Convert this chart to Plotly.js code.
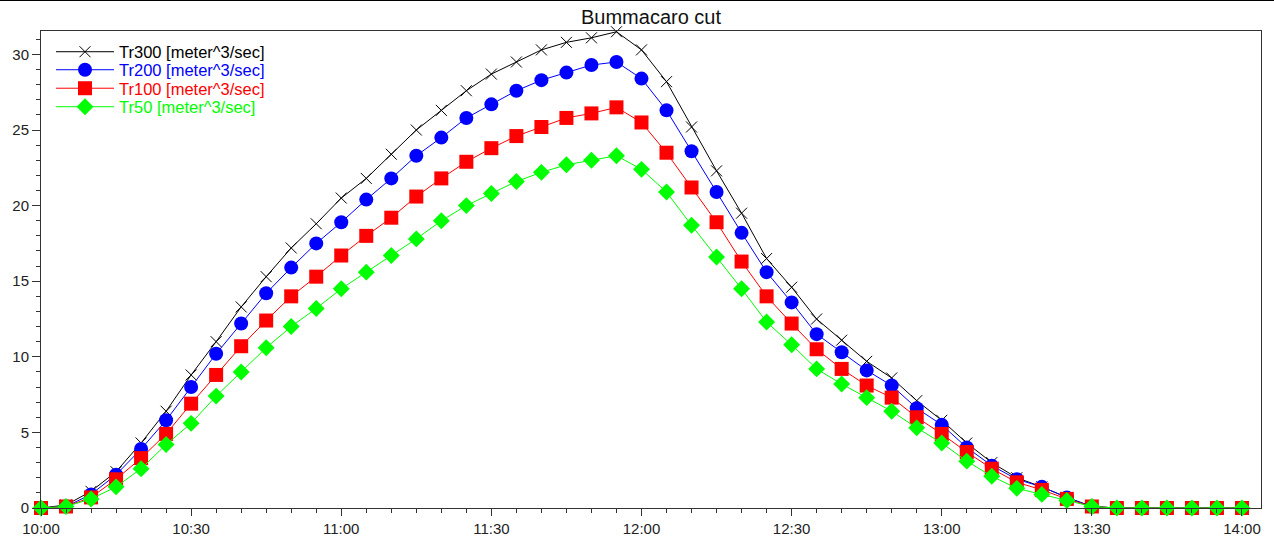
<!DOCTYPE html>
<html>
<head>
<meta charset="utf-8">
<script src="https://cdn.plot.ly/plotly-3.0.1.min.js"></script>
<style>html,body{margin:0;padding:0;background:#fff;}#chart{width:1274px;height:541px;}</style>
</head>
<body>
<div id="chart"></div>
<script>
const times = ["10:00","10:05","10:10","10:15","10:20","10:25","10:30","10:35","10:40","10:45","10:50","10:55",
  "11:00","11:05","11:10","11:15","11:20","11:25","11:30","11:35","11:40","11:45","11:50","11:55",
  "12:00","12:05","12:10","12:15","12:20","12:25","12:30","12:35","12:40","12:45","12:50","12:55",
  "13:00","13:05","13:10","13:15","13:20","13:25","13:30","13:35","13:40","13:45","13:50","13:55","14:00"];

const tr300 = [0,0.2,1.1,2.4,4.3,6.4,8.8,11.0,13.3,15.3,17.2,18.8,
  20.5,21.8,23.4,25.0,26.3,27.6,28.7,29.5,30.3,30.8,31.1,31.5,
  30.3,28.2,25.2,22.3,19.5,16.5,14.6,12.5,11.1,9.7,8.6,7.1,
  5.8,4.3,3.0,2.0,1.4,0.7,0.1,0,0,0,0,0,0];
const tr200 = [0,0.1,0.9,2.2,3.9,5.8,8.0,10.2,12.2,14.2,15.9,17.5,
  18.9,20.4,21.8,23.3,24.5,25.8,26.7,27.6,28.3,28.8,29.3,29.5,
  28.4,26.3,23.6,20.9,18.2,15.6,13.6,11.5,10.3,9.1,8.1,6.6,
  5.5,4.0,2.8,1.9,1.4,0.7,0.1,0,0,0,0,0,0];
const tr100 = [0,0.1,0.7,1.9,3.3,4.9,6.9,8.8,10.7,12.4,14.0,15.3,
  16.7,18.0,19.2,20.6,21.8,22.9,23.8,24.6,25.2,25.8,26.1,26.5,
  25.5,23.5,21.2,18.9,16.3,14.0,12.2,10.5,9.2,8.1,7.3,6.0,
  4.9,3.7,2.6,1.7,1.2,0.6,0.1,0,0,0,0,0,0];
const tr50 = [0,0.1,0.6,1.4,2.6,4.2,5.6,7.4,9.0,10.6,12.0,13.2,
  14.5,15.6,16.7,17.8,19.0,20.0,20.8,21.6,22.2,22.7,23.0,23.3,
  22.4,20.9,18.7,16.6,14.5,12.3,10.8,9.2,8.2,7.3,6.4,5.3,
  4.3,3.1,2.1,1.3,0.9,0.5,0.1,0,0,0,0,0,0];

const seriesNames = ["Tr300 [meter^3/sec]","Tr200 [meter^3/sec]","Tr100 [meter^3/sec]","Tr50 [meter^3/sec]"];
const yTickVals = [0,5,10,15,20,25,30];

const day = "2000-01-01 ";
const x = times.map(t => day + t);

const FONT = "Liberation Sans, Arial, sans-serif";
const cols = ["#000000","#0000ff","#ff0000","#00ff00"];
const syms = ["x-thin-open","circle","square","diamond"];
const sizes = [11,14,14,13];
const data = [tr300,tr200,tr100,tr50];
const legendIds = ["legend","legend2","legend3","legend4"];

const traces = data.map((y,i) => ({
  type: "scatter", mode: "lines+markers", x: x, y: y, name: seriesNames[i],
  legend: legendIds[i], cliponaxis: false,
  line: {color: cols[i], width: 1},
  marker: {symbol: syms[i], size: sizes[i], color: cols[i], line: {color: cols[i], width: i===0 ? 1 : 0}}
}));

const H = 477, W = 1220, T = 31, L = 41;
const rowsPx = [52, 70, 88.5, 107];
function legendAt(py, color){
  return {x: (51-L)/W, xanchor: "left", y: 1 - (py - T)/H, yanchor: "middle",
    bgcolor: "rgba(0,0,0,0)", borderwidth: 0, itemwidth: 58,
    font: {family: FONT, size: 16.5, color: color}};
}

const layout = {
  width: 1274, height: 541,
  margin: {l: L, r: 13, t: T, b: 33, pad: 0},
  paper_bgcolor: "#ffffff", plot_bgcolor: "#ffffff",
  font: {family: FONT, size: 15, color: "#222"},
  title: {text: "Bummacaro cut", x: 0.5, xref: "paper", xanchor: "center",
    y: 1 - 17/541, yref: "container", yanchor: "middle",
    font: {family: FONT, size: 20, color: "#111"}},
  showlegend: true,
  legend: legendAt(rowsPx[0], cols[0]),
  legend2: legendAt(rowsPx[1], cols[1]),
  legend3: legendAt(rowsPx[2], cols[2]),
  legend4: legendAt(rowsPx[3], cols[3]),
  xaxis: {
    type: "date", range: [day + "10:00:00", day + "14:03:48"],
    tickformat: "%H:%M", dtick: 1800000, tick0: day + "10:00",
    ticks: "outside", ticklen: 7, tickcolor: "#333", tickwidth: 1,
    minor: {dtick: 300000, ticks: "outside", ticklen: 4, tickcolor: "#333", showgrid: false},
    showgrid: false, zeroline: false, showline: true, linecolor: "#333", linewidth: 1, mirror: true,
    tickfont: {family: FONT, size: 15, color: "#222"}
  },
  yaxis: {
    range: [0, 31.55], tickvals: yTickVals,
    ticks: "outside", ticklen: 8, tickcolor: "#333", tickwidth: 1,
    minor: {dtick: 1, ticks: "outside", ticklen: 4, tickcolor: "#333", showgrid: false},
    showgrid: false, zeroline: false, showline: true, linecolor: "#333", linewidth: 1, mirror: true,
    tickfont: {family: FONT, size: 15, color: "#222"}
  },
  shapes: [{type: "line", xref: "paper", yref: "paper", x0: -L/W, x1: 1 + 13/W,
    y0: 1 + (T - 0.5)/H, y1: 1 + (T - 0.5)/H, line: {color: "#000", width: 1}}]
};

Plotly.newPlot("chart", traces, layout, {displayModeBar: false, staticPlot: true});
</script>
</body>
</html>
